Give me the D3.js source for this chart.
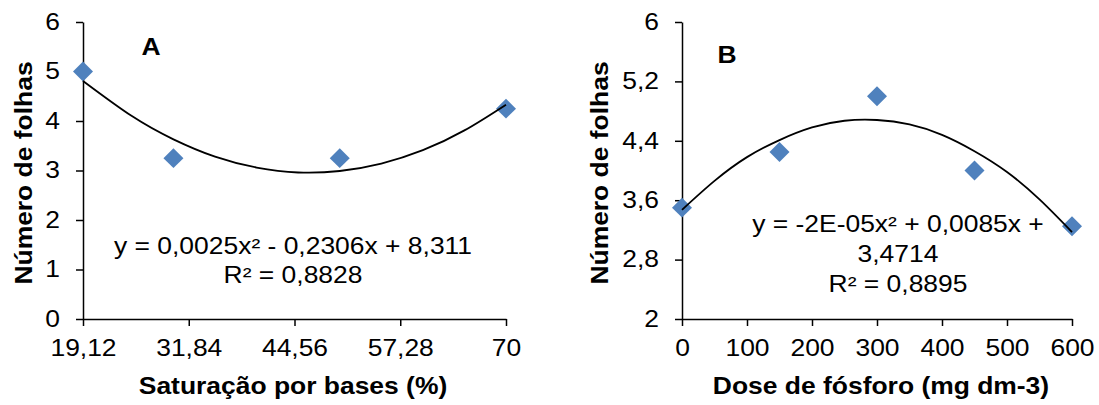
<!DOCTYPE html>
<html>
<head>
<meta charset="utf-8">
<script src="https://cdn.jsdelivr.net/npm/d3@7"></script>
<style>
body{margin:0;background:#fff;}
svg{font-family:"Liberation Sans",Arial,sans-serif;}
.axis path,.axis line{stroke:#000;stroke-width:1.5;}
.axis text{font-size:23px;fill:#000;}
.title{font-size:23px;font-weight:bold;fill:#000;}
.eq{font-size:23px;fill:#000;}
</style>
</head>
<body>
<svg id="chart" width="1099" height="405"></svg>
<script>
// panel A - saturacao por bases
var satX = [19.12, 30, 50, 70];
var satY = [5, 3.25, 3.25, 4.25];
var satTicks = [19.12, 31.84, 44.56, 57.28, 70];
var satYTicks = [0, 1, 2, 3, 4, 5, 6];
// trend line
var satTrendX = [19.12, 25, 30, 35, 40, 45, 50, 55, 60, 65, 70];
var satTrendY = [4.81, 4.10, 3.63, 3.28, 3.06, 2.96, 2.99, 3.14, 3.41, 3.81, 4.33];
var satEq = ["y = 0,0025x² - 0,2306x + 8,311", "R² = 0,8828"];

// panel B - dose de fosforo
var doseX = [0, 150, 300, 450, 600];
var doseY = [3.5, 4.25, 5, 4, 3.25];
var doseTicks = [0, 100, 200, 300, 400, 500, 600];
var doseYTicks = [2, 2.8, 3.6, 4.4, 5.2, 6];
var doseTrendX = [0, 50, 100, 150, 200, 250, 300, 350, 400, 450, 500, 550, 600];
var doseTrendY = [3.47, 3.86, 4.18, 4.41, 4.58, 4.67, 4.68, 4.62, 4.48, 4.26, 3.98, 3.61, 3.17];
var doseEq = ["y = -2E-05x² + 0,0085x +", "3,4714", "R² = 0,8895"];

var svg = d3.select("#chart");
var sx = 1.15; // the original text is drawn wider than Liberation Sans
var fmt = function(d){ return String(d).replace(".", ","); };

function drawPanel(opt){
  var x = d3.scaleLinear().domain(opt.xDomain).range(opt.xRange);
  var y = d3.scaleLinear().domain(opt.yDomain).range([319, 22]);
  var g = svg.append("g");

  g.append("g").attr("class","axis")
    .attr("transform","translate(0,319)")
    .call(d3.axisBottom(x).tickValues(opt.xTicks).tickSize(7).tickSizeOuter(0).tickPadding(14).tickFormat(fmt))
    .selectAll("text").attr("transform","scale(" + sx + ",1)");

  g.append("g").attr("class","axis")
    .attr("transform","translate(" + opt.xRange[0] + ",0)")
    .call(d3.axisLeft(y).tickValues(opt.yTicks).tickSize(7).tickSizeOuter(0).tickFormat(fmt))
    .selectAll("text").attr("x", -23 / sx).attr("transform","scale(" + sx + ",1)");

  var line = d3.line()
    .x(function(d){ return x(d[0]); })
    .y(function(d){ return y(d[1]); })
    .curve(d3.curveNatural);
  var trend = d3.zip(opt.trendX, opt.trendY);

  g.selectAll(".pt")
    .data(d3.zip(opt.px, opt.py))
    .enter().append("path")
    .attr("class","pt")
    .attr("d", d3.symbol().type(d3.symbolSquare).size(200))
    .attr("transform", function(d){ return "translate(" + x(d[0]) + "," + y(d[1]) + ") rotate(45)"; })
    .style("fill","#4F81BD");

  g.append("path").datum(trend)
    .attr("d", line)
    .style("fill","none").style("stroke","#000").style("stroke-width",1.8);

  g.append("text").attr("class","title")
    .attr("transform","translate(" + opt.letter[0] + "," + opt.letter[1] + ") scale(" + sx + ",1)")
    .attr("text-anchor","middle").text(opt.label);

  g.append("text").attr("class","title")
    .attr("transform","translate(" + opt.yTitleX + ",173) rotate(-90) scale(" + sx + ",1)")
    .attr("text-anchor","middle").text("Número de folhas");

  g.append("text").attr("class","title")
    .attr("transform","translate(" + opt.xTitleX + ",394) scale(" + sx + ",1)")
    .attr("text-anchor","middle").text(opt.xTitle);

  g.selectAll(".eq")
    .data(opt.eq)
    .enter().append("text")
    .attr("class","eq")
    .attr("transform", function(d,i){
      return "translate(" + opt.eqPos[0] + "," + (opt.eqPos[1] + i*opt.eqStep) + ") scale(" + sx + ",1)";
    })
    .attr("text-anchor","middle")
    .text(function(d){ return d; });
}

drawPanel({
  xDomain:[19.12,70], xRange:[83,506], yDomain:[0,6],
  xTicks:satTicks, yTicks:satYTicks,
  px:satX, py:satY, trendX:satTrendX, trendY:satTrendY,
  label:"A", letter:[151,55], yTitleX:32, xTitleX:293,
  xTitle:"Saturação por bases (%)", eq:satEq, eqPos:[293,254], eqStep:29
});

drawPanel({
  xDomain:[0,600], xRange:[682,1072], yDomain:[2,6],
  xTicks:doseTicks, yTicks:doseYTicks,
  px:doseX, py:doseY, trendX:doseTrendX, trendY:doseTrendY,
  label:"B", letter:[727,63], yTitleX:608, xTitleX:881,
  xTitle:"Dose de fósforo (mg dm-3)", eq:doseEq, eqPos:[898,232], eqStep:30
});
</script>
</body>
</html>
